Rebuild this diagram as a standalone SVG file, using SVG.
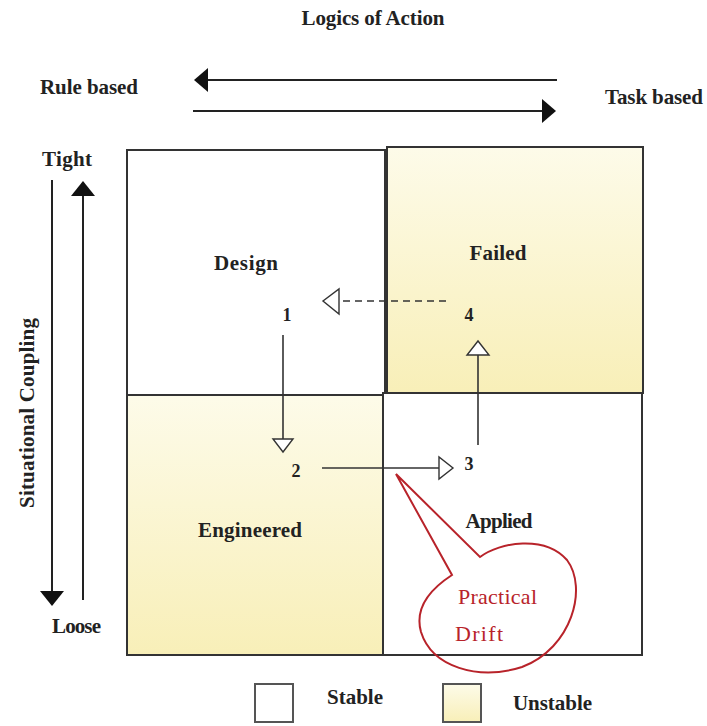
<svg xmlns="http://www.w3.org/2000/svg" width="707" height="726" viewBox="0 0 707 726">
<style>
.lbl{font-family:"Liberation Serif","Times New Roman",serif;font-weight:bold;font-size:21px;fill:#222}
.num{font-family:"Liberation Serif","Times New Roman",serif;font-weight:bold;font-size:18px;fill:#222}
.red{font-family:"Liberation Serif","Times New Roman",serif;font-size:22px;fill:#b8232a}
.box{stroke:#333;stroke-width:2}
.conn{stroke:#333;stroke-width:1.6;fill:none}
.head{fill:#fff;stroke:#333;stroke-width:1.4}
.axis{stroke:#222;stroke-width:2;fill:none}
</style>
<defs>
<linearGradient id="yel" x1="0" y1="0" x2="0" y2="1">
<stop offset="0" stop-color="#fdfbe9"/>
<stop offset="1" stop-color="#f8efb8"/>
</linearGradient>
</defs>
<rect width="707" height="726" fill="#fff"/>
<text class="lbl" x="373" y="25" text-anchor="middle" textLength="143">Logics of Action</text>
<text class="lbl" x="40" y="94" textLength="98">Rule based</text>
<text class="lbl" x="605" y="104" textLength="98">Task based</text>
<text class="lbl" x="42" y="166" textLength="50">Tight</text>
<text class="lbl" x="52" y="633" textLength="49">Loose</text>
<text class="lbl" transform="translate(34,413) rotate(-90)" text-anchor="middle" textLength="190">Situational Coupling</text>
<g id="axes">
<line class="axis" x1="557" y1="80" x2="205" y2="80"/>
<polygon points="194,80 208,68 208,92" fill="#111"/>
<line class="axis" x1="193" y1="111" x2="545" y2="111"/>
<polygon points="556,111 542,99 542,123" fill="#111"/>
<line class="axis" x1="83" y1="600" x2="83" y2="192"/>
<polygon points="83,181 71,196 95,196" fill="#111"/>
<line class="axis" x1="52" y1="180" x2="52" y2="593"/>
<polygon points="52,606 40,591 64,591" fill="#111"/>
</g>
<g id="design"><rect class="box" x="127" y="150" width="258" height="245" fill="#fff"/><text class="lbl" x="246" y="270" text-anchor="middle" textLength="64">Design</text></g>
<g id="failed"><rect class="box" x="387" y="147" width="256" height="246" fill="url(#yel)"/><text class="lbl" x="498" y="260" text-anchor="middle" textLength="57">Failed</text></g>
<g id="engineered"><rect class="box" x="127" y="395" width="256" height="260" fill="url(#yel)"/><text class="lbl" x="250" y="537" text-anchor="middle" textLength="104">Engineered</text></g>
<g id="applied"><rect class="box" x="383" y="393" width="259" height="262" fill="#fff"/><text class="lbl" x="499" y="528" text-anchor="middle" textLength="67">Applied</text></g>
<g id="n1"><text class="num" x="287" y="321" text-anchor="middle">1</text></g>
<g id="n2"><text class="num" x="296" y="477" text-anchor="middle">2</text></g>
<g id="n3"><text class="num" x="469" y="470" text-anchor="middle">3</text></g>
<g id="n4"><text class="num" x="469" y="321" text-anchor="middle">4</text></g>
<g id="connectors">
<line class="conn" x1="283" y1="335" x2="283" y2="439"/>
<polygon class="head" points="273,439 293,439 283,452"/>
<line class="conn" x1="322" y1="468" x2="439" y2="468"/>
<polygon class="head" points="439,457 439,479 453,468"/>
<line class="conn" x1="478" y1="445" x2="478" y2="355"/>
<polygon class="head" points="467,355 489,355 478,341"/>
<line class="conn" x1="446" y1="301" x2="339" y2="301" stroke-dasharray="7,5"/>
<polygon class="head" points="339,289 339,314 323,301"/>
</g>
<g id="callout">
<path d="M396,474 L480,557 C500,542 545,535 567,560 C588,588 572,648 522,667 C478,681 432,667 421,632 C414,607 432,588 452,575 Z" fill="none" stroke="#b8232a" stroke-width="2"/>
<text class="red" x="458" y="604" textLength="79">Practical</text>
<text class="red" x="455" y="641" textLength="48">Drift</text>
</g>
<g id="legend">
<rect x="255" y="684" width="38" height="38" fill="#fff" stroke="#555" stroke-width="2"/>
<text class="lbl" x="327" y="704" textLength="56">Stable</text>
<rect x="443" y="684" width="38" height="38" fill="url(#yel)" stroke="#555" stroke-width="2"/>
<text class="lbl" x="513" y="710" textLength="79">Unstable</text>
</g>
</svg>
